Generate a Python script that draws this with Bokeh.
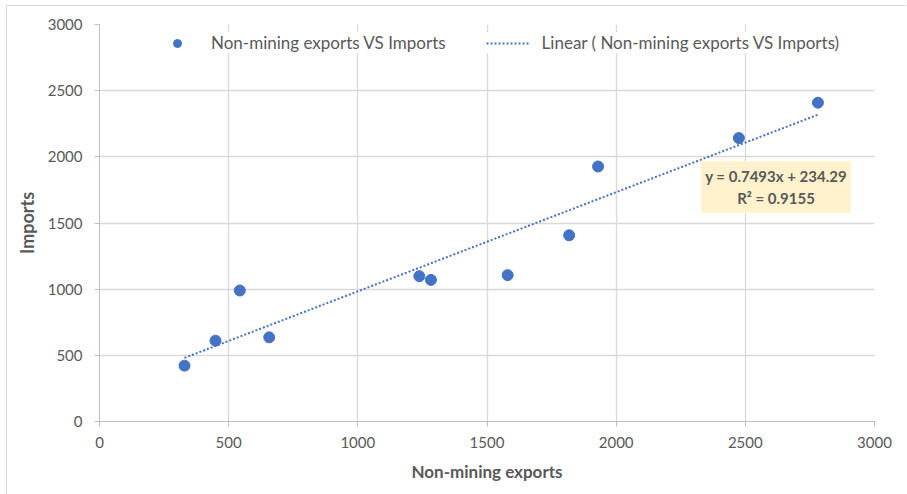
from bokeh.plotting import figure
from bokeh.models import Range1d, Legend, LegendItem, Label, FixedTicker
from bokeh.embed import file_html
from bokeh.resources import INLINE

# Non-mining exports vs imports
exports = [329, 449, 543, 657, 1238, 1283, 1580, 1818, 1930, 2475, 2781]
imports = [422, 611, 990, 636, 1098, 1070, 1106, 1407, 1927, 2142, 2409]

# linear trend line coefficients
slope = 0.7493
intercept = 234.29
r_squared = 0.9155

ticks = [0, 500, 1000, 1500, 2000, 2500, 3000]

BLUE = "#4472C4"
TEXT = "#595959"
GRID = "#d9d9d9"
FONT = "Lato"

p = figure(width=900, height=489, x_range=Range1d(0, 3000), y_range=Range1d(0, 3000),
           output_backend="svg", toolbar_location=None,
           min_border_left=92, min_border_right=33, min_border_top=18, min_border_bottom=74)
p.margin = (5, 0, 0, 6)
p.styles = {"border-left": f"1px solid {GRID}", "border-top": f"1px solid {GRID}"}
p.background_fill_color = "white"
p.border_fill_color = "white"
p.outline_line_color = None

for ax in (p.xaxis[0], p.yaxis[0]):
    ax.ticker = FixedTicker(ticks=ticks)
    ax.axis_line_color = "#bfbfbf"
    ax.major_tick_line_color = "#bfbfbf"
    ax.major_tick_out = 5
    ax.major_tick_in = 0
    ax.minor_tick_line_color = None
    ax.major_label_text_color = TEXT
    ax.major_label_text_font = FONT
    ax.major_label_text_font_size = "15px"
    ax.axis_label_text_color = TEXT
    ax.axis_label_text_font = FONT
    ax.axis_label_text_font_style = "bold"

p.xaxis.axis_label = "Non-mining exports"
p.yaxis.axis_label = "Imports"
p.xaxis.axis_label_text_font_size = "17px"
p.yaxis.axis_label_text_font_size = "18px"
p.xaxis.major_label_standoff = 10
p.yaxis.major_label_standoff = 12
p.xaxis.axis_label_standoff = 10
p.yaxis.axis_label_standoff = 7

p.xgrid.ticker = FixedTicker(ticks=ticks)
p.ygrid.ticker = FixedTicker(ticks=ticks)
p.xgrid.grid_line_color = GRID
p.ygrid.grid_line_color = GRID
p.xgrid.grid_line_width = 1.3
p.ygrid.grid_line_width = 1.3

# trend line across the range of the data
x0, x1 = min(exports), max(exports)
trend = p.line([x0, x1], [slope * x0 + intercept, slope * x1 + intercept],
               line_color=BLUE, line_width=2, line_dash="2 2")

pts = p.scatter(exports, imports, size=11, fill_color=BLUE, line_color=BLUE)

legend = Legend(items=[
    LegendItem(label="Non-mining exports VS Imports", renderers=[pts]),
    LegendItem(label="Linear ( Non-mining exports VS Imports)", renderers=[trend]),
], orientation="horizontal", location=(56, 368))
legend.background_fill_color = "white"
legend.background_fill_alpha = 1
legend.border_line_color = None
legend.label_text_font = FONT
legend.label_text_font_size = "17px"
legend.label_text_color = TEXT
legend.glyph_width = 44
legend.label_standoff = 12
legend.spacing = 40
legend.padding = 4
legend.margin = 0
p.add_layout(legend)

eq = Label(x=2619, y=1773,
           text=f"y = {slope}x + {intercept}\nR² = {r_squared}",
           text_align="center", text_baseline="middle",
           text_font=FONT, text_font_size="15px", text_font_style="bold",
           text_color=TEXT, background_fill_color="#FFF2CC",
           padding=(4, 6))
p.add_layout(eq)

open("out.html", "w").write(file_html(p, INLINE))
